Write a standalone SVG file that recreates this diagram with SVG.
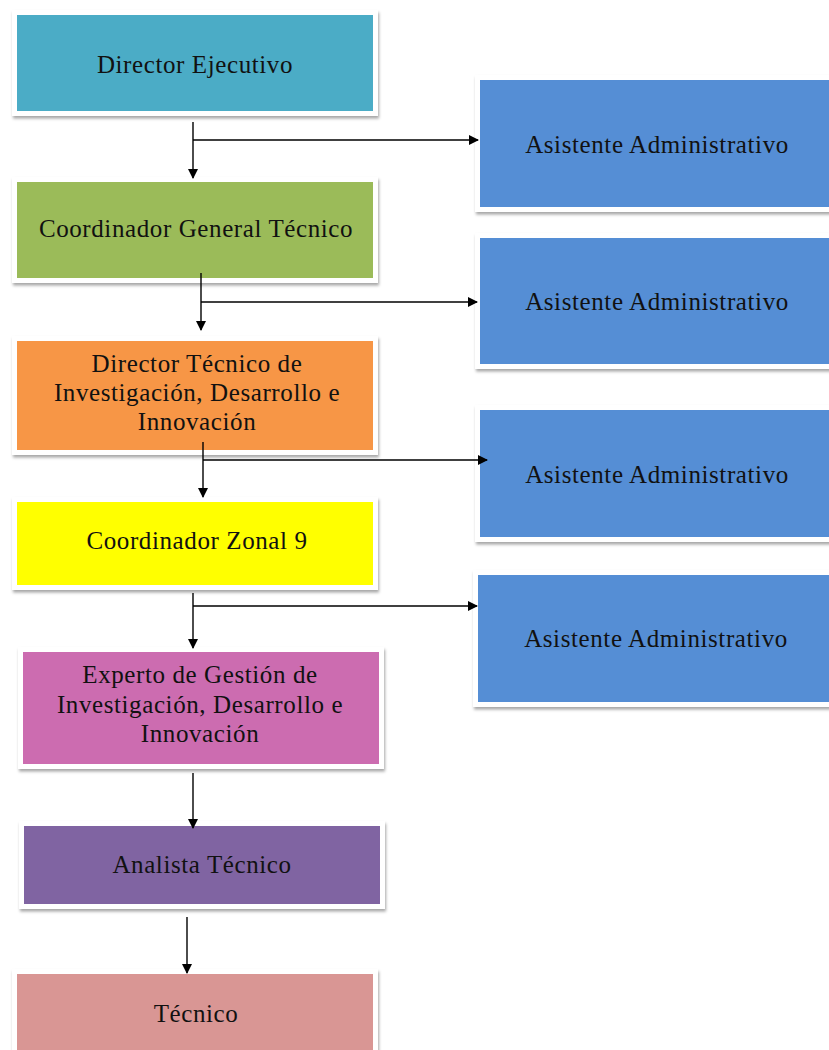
<svg xmlns="http://www.w3.org/2000/svg" width="829" height="1050" viewBox="0 0 829 1050">
<style>
.t{font-family:"Liberation Serif","Times New Roman",serif;font-size:25px;letter-spacing:0.6px;fill:#111;text-anchor:middle}
.fr{fill:#fff;filter:url(#sh)}
.c{stroke:#000;stroke-width:1.4;fill:none;marker-end:url(#ah)}
.b{stroke:#000;stroke-width:1.4;fill:none}
</style>
<defs>
<filter id="sh" x="-10%" y="-10%" width="130%" height="140%">
<feDropShadow dx="1" dy="2.5" stdDeviation="1.5" flood-color="#000" flood-opacity="0.35"/>
</filter>
<marker id="ah" markerWidth="10" markerHeight="10" refX="9" refY="5" orient="auto" markerUnits="userSpaceOnUse">
<path d="M0,0 L10,5 L0,10 Z" fill="#000"/>
</marker>
</defs>
<rect width="829" height="1050" fill="#fff"/>

<g id="n-director-ejecutivo">
<rect class="fr" x="12" y="10" width="366" height="106"/>
<rect x="17" y="15" width="356" height="96" fill="#4BACC6"/>
<text class="t" x="195" y="73">Director Ejecutivo</text>
</g>

<g id="n-coordinador-general">
<rect class="fr" x="12" y="177" width="366" height="106"/>
<rect x="17" y="182" width="356" height="96" fill="#9BBB59"/>
<text class="t" x="196" y="237">Coordinador General Técnico</text>
</g>

<g id="n-director-tecnico">
<rect class="fr" x="12" y="336" width="366" height="119"/>
<rect x="17" y="341" width="356" height="109" fill="#F79646"/>
<text class="t" x="197" y="372">Director Técnico de</text>
<text class="t" x="197" y="401">Investigación, Desarrollo e</text>
<text class="t" x="197" y="430">Innovación</text>
</g>

<g id="n-coordinador-zonal">
<rect class="fr" x="12" y="497" width="366" height="93"/>
<rect x="17" y="502" width="356" height="83" fill="#FFFF00"/>
<text class="t" x="197" y="549">Coordinador Zonal 9</text>
</g>

<g id="n-experto">
<rect class="fr" x="18" y="647" width="366" height="122"/>
<rect x="23" y="652" width="356" height="112" fill="#CC6CB0"/>
<text class="t" x="200" y="683">Experto de Gestión de</text>
<text class="t" x="200" y="713">Investigación, Desarrollo e</text>
<text class="t" x="200" y="742">Innovación</text>
</g>

<g id="n-analista">
<rect class="fr" x="19" y="821" width="366" height="88"/>
<rect x="24" y="826" width="356" height="78" fill="#8064A2"/>
<text class="t" x="202" y="873">Analista Técnico</text>
</g>

<g id="n-tecnico">
<rect class="fr" x="12" y="969" width="366" height="90"/>
<rect x="17" y="974" width="356" height="85" fill="#D99694"/>
<text class="t" x="196" y="1022">Técnico</text>
</g>

<g id="n-asistente-1">
<rect class="fr" x="475" y="75" width="370" height="137"/>
<rect x="480" y="80" width="360" height="127" fill="#558ED5"/>
<text class="t" x="657" y="153">Asistente Administrativo</text>
</g>

<g id="n-asistente-2">
<rect class="fr" x="475" y="233" width="370" height="136"/>
<rect x="480" y="238" width="360" height="126" fill="#558ED5"/>
<text class="t" x="657" y="310">Asistente Administrativo</text>
</g>

<g id="n-asistente-3">
<rect class="fr" x="475" y="405" width="370" height="137"/>
<rect x="480" y="410" width="360" height="127" fill="#558ED5"/>
<text class="t" x="657" y="483">Asistente Administrativo</text>
</g>

<g id="n-asistente-4">
<rect class="fr" x="473" y="570" width="370" height="137"/>
<rect x="478" y="575" width="360" height="127" fill="#558ED5"/>
<text class="t" x="656" y="647">Asistente Administrativo</text>
</g>

<g id="connectors">
<path class="c" d="M193,122 V178"/>
<path class="c" d="M193,140 H478"/>
<path class="c" d="M201,273 V330"/>
<path class="c" d="M201,302 H477"/>
<path class="c" d="M203,442 V497"/>
<path class="c" d="M203,460 H487"/>
<path class="c" d="M193,593 V648"/>
<path class="c" d="M193,606 H477"/>
<path class="c" d="M193,773 V828"/>
<path class="c" d="M187,917 V973"/>
</g>
</svg>
